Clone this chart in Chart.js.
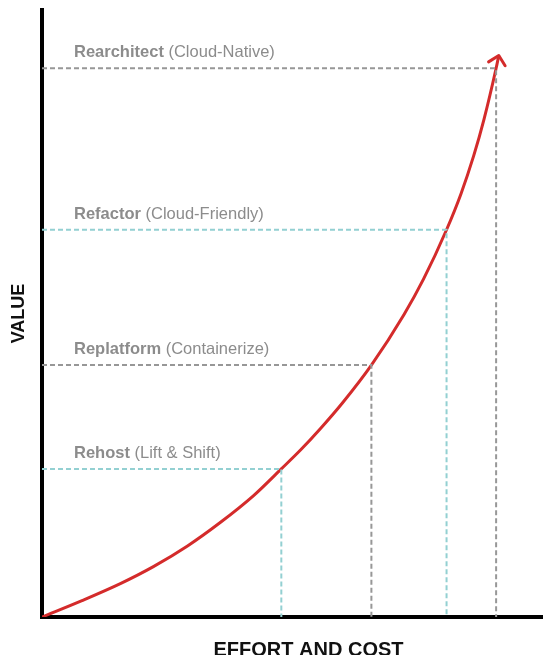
<!DOCTYPE html>
<html>
<head>
<meta charset="utf-8">
<script src="https://cdn.jsdelivr.net/npm/chart.js@4/dist/chart.umd.min.js"></script>
<style>
  html, body { margin: 0; padding: 0; background: #fff; overflow: hidden; }
  #wrap { position: relative; width: 575px; height: 655px; }
</style>
</head>
<body>
<div id="wrap"><canvas id="c" width="575" height="655"></canvas></div>
<script>
// Migration strategies along the effort/value curve
const stages = ['Rehost', 'Replatform', 'Refactor', 'Rearchitect'];
const stageNotes = ['(Lift & Shift)', '(Containerize)', '(Cloud-Friendly)', '(Cloud-Native)'];
const stageEffort = [44.9, 61.8, 75.9, 85.2];
const stageValue = [24.4, 41.5, 63.8, 90.4];

// Value gained as effort and cost grow
const curveEffort = [0, 7.5, 14.7, 20.9, 27.3, 33.5, 39.7, 44.9, 48.5, 52.3, 56.4, 61.8, 67.9, 71.6, 75.9, 78.6, 81.0, 82.9, 85.2, 85.7];
const curveValue  = [0, 2.7, 5.5, 8.3, 11.7, 15.6, 20.0, 24.4, 27.5, 31.1, 35.3, 41.5, 49.8, 55.7, 63.8, 69.7, 76.0, 81.9, 90.4, 92.5];

const axisTitles = { x: 'EFFORT AND COST', y: 'VALUE' };

const RED = '#d42b2b';
const GREY = '#979797';
const TEAL = '#93d0d2';
const LABEL = '#8c8c8c';

const guideColor = i => (i % 2 === 0 ? TEAL : GREY);

const guideSets = stages.map((s, i) => ({
  label: s,
  data: [
    { x: 0, y: stageValue[i] },
    { x: stageEffort[i], y: stageValue[i] },
    { x: stageEffort[i], y: 0 }
  ],
  showLine: true,
  borderColor: guideColor(i),
  borderWidth: 2,
  borderDash: [5, 3],
  pointRadius: 0,
  tension: 0
}));

const curveSet = {
  label: 'curve',
  data: curveEffort.map((x, i) => ({ x, y: curveValue[i] })),
  showLine: true,
  borderColor: RED,
  borderWidth: 3,
  pointRadius: 0,
  cubicInterpolationMode: 'monotone'
};

// Arrowhead at the end of the curve, stage labels and axis titles
const decor = {
  id: 'decor',
  afterDatasetsDraw(chart) {
    const { ctx, scales: { x, y }, chartArea } = chart;
    ctx.save();

    // arrowhead
    const n = curveEffort.length;
    const tx = x.getPixelForValue(curveEffort[n - 1]);
    const ty = y.getPixelForValue(curveValue[n - 1]);
    const px = x.getPixelForValue(curveEffort[n - 3]);
    const py = y.getPixelForValue(curveValue[n - 3]);
    const ang = Math.atan2(ty - py, tx - px);
    const len = 12, spread = Math.PI / 4;
    ctx.strokeStyle = RED;
    ctx.lineWidth = 3;
    ctx.lineCap = 'round';
    ctx.lineJoin = 'round';
    ctx.beginPath();
    ctx.moveTo(tx - len * Math.cos(ang - spread), ty - len * Math.sin(ang - spread));
    ctx.lineTo(tx, ty);
    ctx.lineTo(tx - len * Math.cos(ang + spread), ty - len * Math.sin(ang + spread));
    ctx.stroke();

    // stage labels
    ctx.fillStyle = LABEL;
    ctx.textBaseline = 'alphabetic';
    ctx.textAlign = 'left';
    stages.forEach((s, i) => {
      const lx = chartArea.left + 32;
      const ly = y.getPixelForValue(stageValue[i]) - 11;
      ctx.font = 'bold 16.5px "Liberation Sans", Arial, sans-serif';
      ctx.fillText(s, lx, ly);
      const w = ctx.measureText(s + ' ').width;
      ctx.font = '16.5px "Liberation Sans", Arial, sans-serif';
      ctx.fillText(stageNotes[i], lx + w, ly);
    });

    // axis titles
    ctx.fillStyle = '#111';
    ctx.textAlign = 'center';
    ctx.textBaseline = 'middle';
    ctx.font = 'bold 20px "Liberation Sans", Arial, sans-serif';
    ctx.fillText(axisTitles.x, (chartArea.left + chartArea.right) / 2, 650);
    ctx.font = 'bold 18px "Liberation Sans", Arial, sans-serif';
    ctx.translate(19, (chartArea.top + chartArea.bottom) / 2);
    ctx.rotate(-Math.PI / 2);
    ctx.fillText(axisTitles.y, 0, 0);
    ctx.restore();
  }
};

new Chart(document.getElementById('c'), {
  type: 'scatter',
  data: { datasets: [...guideSets, curveSet] },
  options: {
    responsive: false,
    animation: false,
    layout: { padding: { left: 42, top: 10, right: 0, bottom: 38 } },
    plugins: { legend: { display: false }, tooltip: { enabled: false } },
    scales: {
      x: {
        type: 'linear', min: 0, max: 100,
        ticks: { display: false },
        grid: { display: false, drawTicks: false },
        border: { display: true, color: '#000', width: 4 }
      },
      y: {
        type: 'linear', min: 0, max: 100,
        ticks: { display: false },
        grid: { display: false, drawTicks: false },
        border: { display: true, color: '#000', width: 4 }
      }
    }
  },
  plugins: [decor]
});
</script>
</body>
</html>
